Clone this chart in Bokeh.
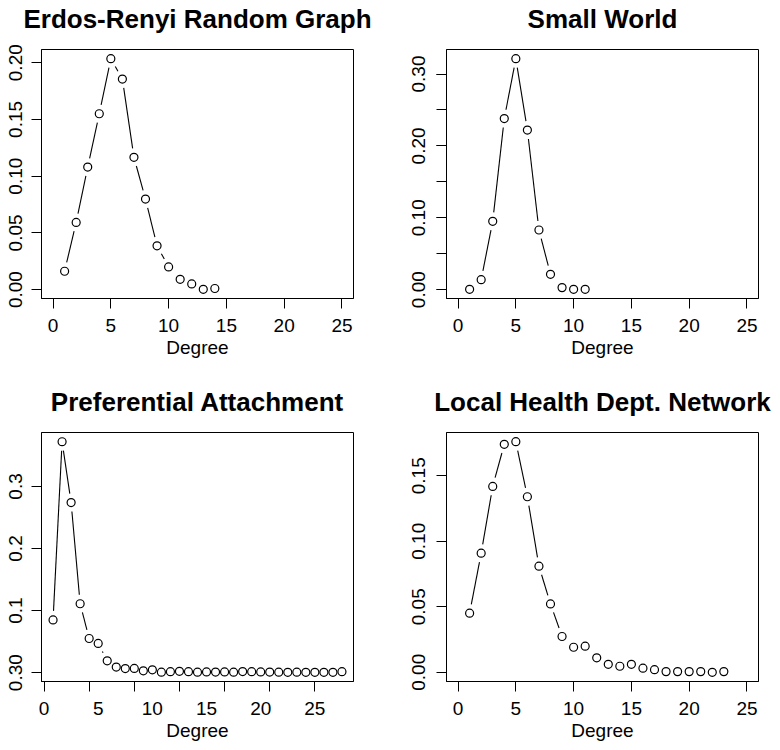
import math
from bokeh.plotting import figure
from bokeh.layouts import column, row
from bokeh.models import FixedTicker, PrintfTickFormatter, Range1d, Title
from bokeh.embed import file_html
from bokeh.resources import INLINE

# ---------------- data ----------------
titles = ["Erdos-Renyi Random Graph", "Small World",
          "Preferential Attachment", "Local Health Dept. Network"]
x_label = "Degree"

degree_er = list(range(1, 15))
prob_er = [0.0162, 0.0592, 0.108, 0.155, 0.2035, 0.1856, 0.1166, 0.0798,
           0.0386, 0.020, 0.0091, 0.005, 0.0003, 0.001]

degree_sw = list(range(1, 12))
prob_sw = [0.0005, 0.0139, 0.095, 0.238, 0.3213, 0.222, 0.083, 0.0213,
           0.0028, 0.0005, 0.0005]

degree_pa = list(range(1, 34))
prob_pa = [0.085, 0.372, 0.274, 0.111, 0.055, 0.047, 0.019, 0.009, 0.0065,
           0.0068, 0.003, 0.0045, 0.0008, 0.0015, 0.0022, 0.0016, 0.0008,
           0.0012, 0.001, 0.0012, 0.0008, 0.0018, 0.0015, 0.0012, 0.001,
           0.0008, 0.0006, 0.0008, 0.0006, 0.0006, 0.0006, 0.0006, 0.0016]

degree_lhd = list(range(1, 24))
prob_lhd = [0.0451, 0.0909, 0.1419, 0.174, 0.176, 0.134, 0.081, 0.0522,
            0.0273, 0.0191, 0.0199, 0.011, 0.0061, 0.0046, 0.0061, 0.0031,
            0.002, 0.0005, 0.0005, 0.0005, 0.0005, 0.0, 0.0005]

xlim_common = (0, 25)
x_ticks = [0, 5, 10, 15, 20, 25]
x_ticks_pa = [0, 5, 10, 15, 20, 25, 30]
x_label_pos_pa = [0, 6, 12, 18, 24, 30]
x_labels_pa = ["0", "5", "10", "15", "20", "25"]

y_ticks_er = [0.0, 0.05, 0.10, 0.15, 0.20]
y_ticks_sw = [0.0, 0.10, 0.20, 0.30]
y_minor_sw = [0.0, 0.05, 0.10, 0.15, 0.20, 0.25, 0.30]
y_ticks_pa = [0.0, 0.1, 0.2, 0.3]
y_labels_pa = ["0.30", "0.1", "0.2", "0.3"]
y_ticks_lhd = [0.0, 0.05, 0.10, 0.15]

# ---------------- style ----------------
FONT = "Liberation Sans"
FW, FH = 312, 249
GAP = 9.0
TICK = 10


def r_range(lo, hi):
    d = (hi - lo) * 0.04
    return lo - d, hi + d


def panel(title, xs, ys, xlim, width, height, left, top, ylab_standoff):
    x0, x1 = r_range(*xlim)
    y0, y1 = r_range(min(ys), max(ys))
    p = figure(width=width, height=height,
               x_range=Range1d(x0, x1), y_range=Range1d(y0, y1),
               output_backend="svg", toolbar_location=None,
               min_border_left=left, min_border_right=width - left - FW,
               min_border_top=top, min_border_bottom=height - top - FH)
    p.title.text = title
    p.title.align = "center"
    p.title.text_font = FONT
    p.title.text_font_size = "26px"
    p.title.text_font_style = "bold"
    p.title.text_color = "black"
    p.title.standoff = 0
    # empty spacer between the title and the plot region
    p.add_layout(Title(text=" ", text_font_size="2px", standoff=12), "above")
    p.xgrid.visible = False
    p.ygrid.visible = False
    p.outline_line_color = "black"
    p.outline_line_width = 1
    p.outline_line_alpha = 1
    for ax in (p.xaxis[0], p.yaxis[0]):
        ax.axis_line_color = "black"
        ax.major_tick_line_color = "black"
        ax.major_tick_in = 0
        ax.major_tick_out = TICK
        ax.minor_tick_line_color = None
        ax.major_label_text_font = FONT
        ax.major_label_text_font_size = "19px"
        ax.major_label_text_color = "black"
        ax.axis_label_text_font = FONT
        ax.axis_label_text_font_size = "19px"
        ax.axis_label_text_font_style = "normal"
        ax.axis_label_text_color = "black"
    p.xaxis[0].axis_label = x_label
    p.xaxis[0].major_label_standoff = 10
    p.xaxis[0].axis_label_standoff = 2
    p.yaxis[0].major_label_orientation = "vertical"
    p.yaxis[0].major_label_standoff = ylab_standoff

    # type="b" lines: segments with a gap around each point
    sx = FW / (x1 - x0)
    sy = FH / (y1 - y0)
    a0, b0, a1, b1 = [], [], [], []
    for i in range(len(xs) - 1):
        ddx = xs[i + 1] - xs[i]
        ddy = ys[i + 1] - ys[i]
        L = math.hypot(ddx * sx, ddy * sy)
        if L > 2 * GAP:
            f = GAP / L
            a0.append(xs[i] + f * ddx)
            b0.append(ys[i] + f * ddy)
            a1.append(xs[i + 1] - f * ddx)
            b1.append(ys[i + 1] - f * ddy)
    p.segment(a0, b0, a1, b1, line_color="black", line_width=1.1)
    p.scatter(xs, ys, marker="circle", size=8, fill_color="white",
              line_color="black", line_width=1.2)
    return p


p1 = panel(titles[0], degree_er, prob_er, xlim_common, 390, 370, 41, 49, 9)
p1.xaxis[0].ticker = FixedTicker(ticks=x_ticks)
p1.yaxis[0].ticker = FixedTicker(ticks=y_ticks_er)
p1.yaxis[0].formatter = PrintfTickFormatter(format="%.2f")

p2 = panel(titles[1], degree_sw, prob_sw, xlim_common, 388, 370, 56, 49, 11)
p2.xaxis[0].ticker = FixedTicker(ticks=x_ticks)
p2.yaxis[0].ticker = FixedTicker(ticks=y_ticks_sw, minor_ticks=y_minor_sw)
p2.yaxis[0].formatter = PrintfTickFormatter(format="%.2f")
p2.yaxis[0].minor_tick_line_color = "black"
p2.yaxis[0].minor_tick_in = 0
p2.yaxis[0].minor_tick_out = TICK

p3 = panel(titles[2], degree_pa, prob_pa, (min(degree_pa), max(degree_pa)),
           390, 378, 41, 62, 9)
p3.xaxis[0].ticker = FixedTicker(ticks=x_label_pos_pa, minor_ticks=x_ticks_pa)
p3.xaxis[0].major_label_overrides = dict(zip(x_label_pos_pa, x_labels_pa))
p3.xaxis[0].major_tick_line_color = None
p3.xaxis[0].minor_tick_line_color = "black"
p3.xaxis[0].minor_tick_in = 0
p3.xaxis[0].minor_tick_out = TICK
p3.yaxis[0].ticker = FixedTicker(ticks=y_ticks_pa)
p3.yaxis[0].major_label_overrides = dict(zip(y_ticks_pa, y_labels_pa))

p4 = panel(titles[3], degree_lhd, prob_lhd, xlim_common, 388, 378, 56, 62, 11)
p4.xaxis[0].ticker = FixedTicker(ticks=x_ticks)
p4.yaxis[0].ticker = FixedTicker(ticks=y_ticks_lhd)
p4.yaxis[0].formatter = PrintfTickFormatter(format="%.2f")

layout = column(row(p1, p2), row(p3, p4))
open("out.html", "w").write(file_html(layout, INLINE))
